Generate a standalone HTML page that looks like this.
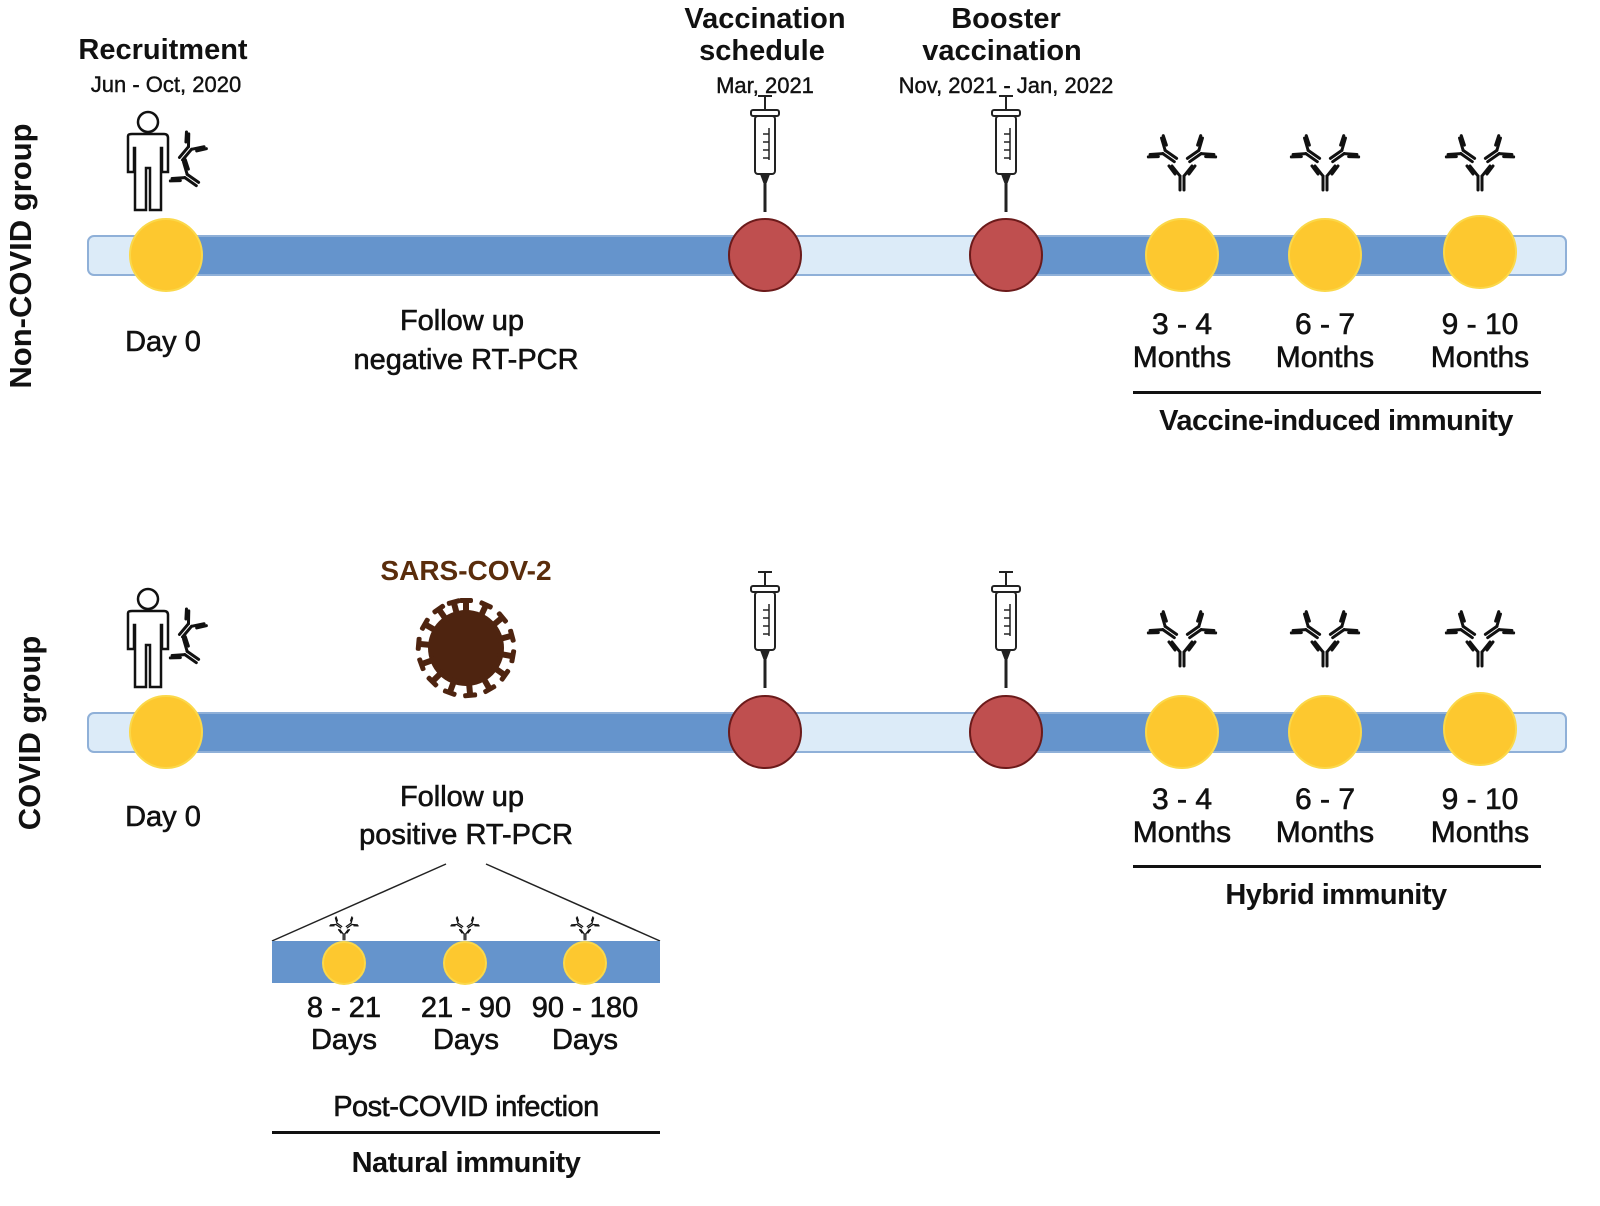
<!DOCTYPE html>
<html><head><meta charset="utf-8"><style>
html,body{margin:0;padding:0;background:#fff}
svg{display:block}
text{font-family:"Liberation Sans",Arial,sans-serif;fill:#111}
.b{font-weight:bold}
.m{stroke:#111;stroke-width:0.6}
</style></head><body>
<svg width="1600" height="1206" viewBox="0 0 1600 1206" xmlns="http://www.w3.org/2000/svg">
<defs>
  <g id="ab" stroke="#111" stroke-width="3" fill="none" stroke-linecap="round">
    <line x1="-2" y1="0" x2="-2" y2="14"/><line x1="2" y1="0" x2="2" y2="14"/>
    <line x1="-2" y1="0" x2="-10" y2="-10"/><line x1="2" y1="0" x2="10" y2="-10"/>
    <line x1="-7" y1="-2" x2="-13" y2="-10"/><line x1="7" y1="-2" x2="13" y2="-10"/>
  </g>
  <g id="ab3">
    <use href="#ab" transform="translate(0,14)"/>
    <use href="#ab" transform="translate(-18,-10) rotate(-55)"/>
    <use href="#ab" transform="translate(18,-10) rotate(55)"/>
  </g>
  <g id="person" fill="#fff" stroke="#111" stroke-width="2.5">
    <circle cx="0" cy="-38" r="10"/>
    <path d="M-20,-24 Q-20,-26 -16,-26 L16,-26 Q20,-26 20,-22 L20,12 L14,12 L14,-12 L13,-12 L13,50 L2,50 L2,8 L-2,8 L-2,50 L-13,50 L-13,-12 L-14,-12 L-14,12 L-20,12 Z"/>
  </g>
  <g id="syr" stroke="#222" stroke-width="2" fill="#fff">
    <line x1="0" y1="46" x2="0" y2="78" stroke-width="3"/>
    <line x1="-7" y1="-38" x2="7" y2="-38"/>
    <line x1="0" y1="-38" x2="0" y2="-24"/>
    <rect x="-14" y="-24" width="28" height="6" rx="2"/>
    <rect x="-10" y="-18" width="20" height="58" rx="3"/>
    <path d="M-4,40 L4,40 L1,48 L-1,48 Z" fill="#222"/>
    <line x1="4" y1="-6" x2="4" y2="26" stroke-width="1.5"/>
    <line x1="4" y1="0" x2="-2" y2="0" stroke-width="1.5"/>
    <line x1="4" y1="8" x2="-2" y2="8" stroke-width="1.5"/>
    <line x1="4" y1="16" x2="-2" y2="16" stroke-width="1.5"/>
    <line x1="4" y1="24" x2="-2" y2="24" stroke-width="1.5"/>
  </g>
  <g id="spike" fill="#4e2410"><rect x="-3" y="-46" width="6" height="14"/><rect x="-7" y="-50" width="14" height="5" rx="2"/></g>
  <g id="line1">
    <rect x="88" y="-19" width="1478" height="39" rx="6" fill="#dcebf8" stroke="#8fb0d8" stroke-width="2"/>
    <rect x="166" y="-18" width="599" height="37" fill="#6594cc"/>
    <rect x="1006" y="-18" width="474" height="37" fill="#6594cc"/>
    <circle cx="166" cy="0" r="36" fill="#fdc82f" stroke="#fbd84a" stroke-width="2"/>
    <circle cx="765" cy="0" r="36" fill="#bf4f4f" stroke="#6b1a1a" stroke-width="2"/>
    <circle cx="1006" cy="0" r="36" fill="#bf4f4f" stroke="#6b1a1a" stroke-width="2"/>
    <circle cx="1182" cy="0" r="36" fill="#fdc82f" stroke="#fbd84a" stroke-width="2"/>
    <circle cx="1325" cy="0" r="36" fill="#fdc82f" stroke="#fbd84a" stroke-width="2"/>
    <circle cx="1480" cy="-3" r="36" fill="#fdc82f" stroke="#fbd84a" stroke-width="2"/>
  </g>
</defs>

<use href="#line1" transform="translate(0,255)"/>
<use href="#person" transform="translate(148,160)"/>
<use href="#ab" transform="translate(190,148) rotate(40)"/>
<use href="#ab" transform="translate(186,176) rotate(-55)"/>
<use href="#syr" transform="translate(765,134)"/>
<use href="#syr" transform="translate(1006,134)"/>
<use href="#ab3" transform="translate(1182,162)"/>
<use href="#ab3" transform="translate(1325,162)"/>
<use href="#ab3" transform="translate(1480,162)"/>

<text x="163" y="59" text-anchor="middle" class="b" font-size="29">Recruitment</text>
<text x="166" y="92" text-anchor="middle" font-size="22" class="m" style="stroke-width:0.4">Jun - Oct, 2020</text>
<text x="765" y="28" text-anchor="middle" class="b" font-size="29">Vaccination</text>
<text x="762" y="60" text-anchor="middle" class="b" font-size="29">schedule</text>
<text x="765" y="93" text-anchor="middle" font-size="22" class="m" style="stroke-width:0.4">Mar, 2021</text>
<text x="1006" y="28" text-anchor="middle" class="b" font-size="29">Booster</text>
<text x="1002" y="60" text-anchor="middle" class="b" font-size="29">vaccination</text>
<text x="1006" y="93" text-anchor="middle" font-size="22" class="m" style="stroke-width:0.4">Nov, 2021 - Jan, 2022</text>

<g class="m">
<text x="163" y="351" text-anchor="middle" font-size="29">Day 0</text>
<text x="462" y="330" text-anchor="middle" font-size="29">Follow up</text>
<text x="466" y="369" text-anchor="middle" font-size="29">negative RT-PCR</text>
<g font-size="30" text-anchor="middle">
<text x="1182" y="334">3 - 4</text><text x="1182" y="367">Months</text>
<text x="1325" y="334">6 - 7</text><text x="1325" y="367">Months</text>
<text x="1480" y="334">9 - 10</text><text x="1480" y="367">Months</text>
</g>
</g>
<rect x="1133" y="391" width="408" height="3" fill="#111"/>
<text x="1336" y="430" text-anchor="middle" class="b" font-size="29" letter-spacing="-0.5">Vaccine-induced immunity</text>
<text transform="translate(31,256) rotate(-90)" text-anchor="middle" class="b" font-size="31">Non-COVID group</text>

<use href="#line1" transform="translate(0,732)"/>
<use href="#person" transform="translate(148,637)"/>
<use href="#ab" transform="translate(190,625) rotate(40)"/>
<use href="#ab" transform="translate(186,653) rotate(-55)"/>
<use href="#syr" transform="translate(765,610)"/>
<use href="#syr" transform="translate(1006,610)"/>
<use href="#ab3" transform="translate(1182,638)"/>
<use href="#ab3" transform="translate(1325,638)"/>
<use href="#ab3" transform="translate(1480,638)"/>

<text x="466" y="580" text-anchor="middle" class="b" font-size="28" style="fill:#5a2d0c">SARS-COV-2</text>
<g transform="translate(466,648)">
  <circle r="38" fill="#4e2410"/>
  <use href="#spike" transform="rotate(0)"/><use href="#spike" transform="rotate(25)"/>
  <use href="#spike" transform="rotate(50)"/><use href="#spike" transform="rotate(75)"/>
  <use href="#spike" transform="rotate(100)"/><use href="#spike" transform="rotate(125)"/>
  <use href="#spike" transform="rotate(150)"/><use href="#spike" transform="rotate(175)"/>
  <use href="#spike" transform="rotate(200)"/><use href="#spike" transform="rotate(225)"/>
  <use href="#spike" transform="rotate(250)"/><use href="#spike" transform="rotate(275)"/>
  <use href="#spike" transform="rotate(300)"/><use href="#spike" transform="rotate(325)"/>
  <use href="#spike" transform="rotate(345)"/>
</g>

<g class="m">
<text x="163" y="826" text-anchor="middle" font-size="29">Day 0</text>
<text x="462" y="806" text-anchor="middle" font-size="29">Follow up</text>
<text x="466" y="844" text-anchor="middle" font-size="29">positive RT-PCR</text>
<g font-size="30" text-anchor="middle">
<text x="1182" y="809">3 - 4</text><text x="1182" y="842">Months</text>
<text x="1325" y="809">6 - 7</text><text x="1325" y="842">Months</text>
<text x="1480" y="809">9 - 10</text><text x="1480" y="842">Months</text>
</g>
</g>
<rect x="1133" y="865" width="408" height="3" fill="#111"/>
<text x="1336" y="904" text-anchor="middle" class="b" font-size="29" letter-spacing="-0.5">Hybrid immunity</text>
<text transform="translate(40,733) rotate(-90)" text-anchor="middle" class="b" font-size="31">COVID group</text>

<line x1="446" y1="864" x2="272" y2="941" stroke="#222" stroke-width="1.5"/>
<line x1="486" y1="864" x2="660" y2="941" stroke="#222" stroke-width="1.5"/>
<rect x="272" y="941" width="388" height="42" fill="#6594cc"/>
<circle cx="344" cy="963" r="21" fill="#fdc82f" stroke="#fbd84a" stroke-width="2"/>
<circle cx="465" cy="963" r="21" fill="#fdc82f" stroke="#fbd84a" stroke-width="2"/>
<circle cx="585" cy="963" r="21" fill="#fdc82f" stroke="#fbd84a" stroke-width="2"/>
<use href="#ab3" transform="translate(344,928) scale(0.42)"/>
<use href="#ab3" transform="translate(465,928) scale(0.42)"/>
<use href="#ab3" transform="translate(585,928) scale(0.42)"/>
<g font-size="29" text-anchor="middle" class="m">
<text x="344" y="1017">8 - 21</text><text x="344" y="1049">Days</text>
<text x="466" y="1017">21 - 90</text><text x="466" y="1049">Days</text>
<text x="585" y="1017">90 - 180</text><text x="585" y="1049">Days</text>
<text x="466" y="1116" letter-spacing="-0.5">Post-COVID infection</text>
</g>
<rect x="272" y="1131" width="388" height="3" fill="#111"/>
<text x="466" y="1172" text-anchor="middle" class="b" font-size="29" letter-spacing="-0.5">Natural immunity</text>
</svg>
</body></html>
